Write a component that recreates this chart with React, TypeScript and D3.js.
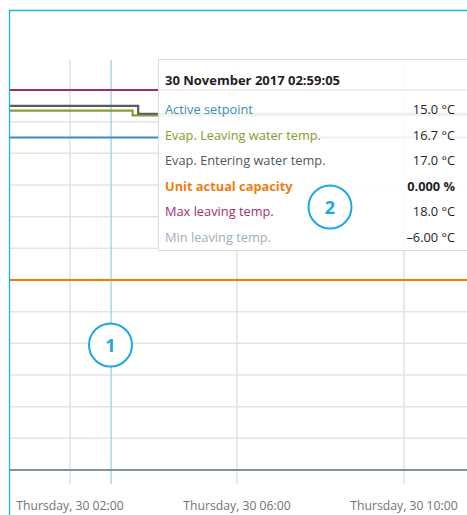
import React from "react";
import * as d3 from "d3";

const W = 467;
const H = 515;

const parse = d3.timeParse("%Y-%m-%d %H:%M");

// x-axis tick times
const tickTimes = ["2017-11-30 02:00", "2017-11-30 06:00", "2017-11-30 10:00"];
const cursorTime = "2017-11-30 02:59";

// series (time, value)
const activeSetpointT = ["2017-11-30 00:00", "2017-11-30 12:00"];
const activeSetpointV = [15.0, 15.0];
const leavingT = ["2017-11-30 00:00", "2017-11-30 03:30", "2017-11-30 12:00"];
const leavingV = [16.7, 16.4, 16.4];
const enteringT = ["2017-11-30 00:00", "2017-11-30 03:38", "2017-11-30 12:00"];
const enteringV = [17.0, 16.5, 16.5];
const capacityT = ["2017-11-30 00:00", "2017-11-30 12:00"];
const capacityV = [0, 0];
const maxT = ["2017-11-30 00:00", "2017-11-30 12:00"];
const maxV = [18.0, 18.0];
const minT = ["2017-11-30 00:00", "2017-11-30 12:00"];
const minV = [-6.0, -6.0];

const gridTemps = [-4, -2, 0, 2, 4, 6, 8, 10, 12, 14, 16];

const tooltipTitle = "30 November 2017 02:59:05";
const tooltipLabels = [
  "Active setpoint",
  "Evap. Leaving water temp.",
  "Evap. Entering water temp.",
  "Unit actual capacity",
  "Max leaving temp.",
  "Min leaving temp.",
];
const tooltipValues = ["15.0 °C", "16.7 °C", "17.0 °C", "0.000 %", "18.0 °C", "–6.00 °C"];
const tooltipColors = ["#3b8db5", "#8d9b2c", "#4f585e", "#f07d12", "#a3326a", "#9fadbd"];

const FONT = "'Open Sans', sans-serif";

export default function App() {
  const x = d3
    .scaleTime()
    .domain([parse(tickTimes[0])!, parse(tickTimes[2])!])
    .range([70, 404]);
  const yT = d3.scaleLinear().domain([-6, 18]).range([470, 90]);
  const yP = d3.scaleLinear().domain([-100, 100]).range([470, 90]);

  const mk = (ts: string[], vs: number[]) => ts.map((t, i) => ({ t: parse(t)!, v: vs[i] }));
  const lineT = d3
    .line<{ t: Date; v: number }>()
    .x((d) => x(d.t))
    .y((d) => yT(d.v))
    .curve(d3.curveStepAfter);
  const lineP = d3
    .line<{ t: Date; v: number }>()
    .x((d) => x(d.t))
    .y((d) => yP(d.v))
    .curve(d3.curveStepAfter);

  const fmt = d3.timeFormat("%A, %d %H:%M");
  const ticks = tickTimes.map((t) => parse(t)!);
  const cx = x(parse(cursorTime)!);

  const series = [
    { d: lineT(mk(minT, minV)), c: "#7f92a3" },
    { d: lineP(mk(capacityT, capacityV)), c: "#f07d00" },
    { d: lineT(mk(activeSetpointT, activeSetpointV)), c: "#3b8db5" },
    { d: lineT(mk(leavingT, leavingV)), c: "#8d9b2c" },
    { d: lineT(mk(enteringT, enteringV)), c: "#545d63" },
    { d: lineT(mk(maxT, maxV)), c: "#a8296a" },
  ];

  const rowY0 = 114;
  const rowStep = 25.6;

  return (
    <svg width={W} height={H} style={{ position: "absolute", left: 0, top: 0, background: "#fff" }}>
      <defs>
        <clipPath id="plot">
          <rect x={10} y={11} width={W - 10} height={H - 11} />
        </clipPath>
      </defs>
      <g clipPath="url(#plot)">
        {gridTemps.map((g) => (
          <line key={g} x1={10} x2={W} y1={yT(g)} y2={yT(g)} stroke="#e4e4e4" strokeWidth={1.5} />
        ))}
        {ticks.map((t, i) => (
          <line key={i} x1={x(t)} x2={x(t)} y1={60} y2={484} stroke="#e2e2e2" strokeWidth={1.5} />
        ))}
        <line x1={cx} x2={cx} y1={60} y2={484} stroke="#8fcfd6" strokeWidth={1.2} />
        {series.map((s, i) => (
          <path key={i} d={s.d || ""} fill="none" stroke={s.c} strokeWidth={2.2} />
        ))}
      </g>
      <line x1={9.5} x2={9.5} y1={10} y2={H} stroke="#22b0e6" strokeWidth={1.3} />
      <line x1={9} x2={W} y1={10.5} y2={10.5} stroke="#22b0e6" strokeWidth={1.3} />

      {ticks.map((t, i) => (
        <text
          key={i}
          x={x(t)}
          y={510}
          textAnchor="middle"
          fontFamily={FONT}
          fontSize={12.2}
          fill="#737373"
        >
          {fmt(t)}
        </text>
      ))}

      <rect x={158.5} y={59.5} width={W} height={191} fill="#fff" fillOpacity={0.9} stroke="#dcdcdc" />
      <text x={165} y={85} fontFamily={FONT} fontSize={13} fontWeight={700} fill="#1e1e1e">
        {tooltipTitle}
      </text>
      {tooltipLabels.map((l, i) => (
        <g key={i}>
          <text
            x={165}
            y={rowY0 + i * rowStep}
            fontFamily={FONT}
            fontSize={12.8}
            fontWeight={i === 3 ? 700 : 400}
            fill={tooltipColors[i]}
          >
            {l}
          </text>
          <text
            x={455}
            y={rowY0 + i * rowStep}
            textAnchor="end"
            fontFamily={FONT}
            fontSize={12.8}
            fontWeight={i === 3 ? 700 : 400}
            fill="#1e1e1e"
          >
            {tooltipValues[i]}
          </text>
        </g>
      ))}

      <circle cx={110.5} cy={345} r={21.5} fill="#fff" stroke="#1aa9e5" strokeWidth={2} />
      <text x={110.5} y={351.5} textAnchor="middle" fontFamily={FONT} fontSize={18} fontWeight={700} fill="#1aa9e5">
        1
      </text>
      <circle cx={330} cy={207} r={21.5} fill="#fff" stroke="#1aa9e5" strokeWidth={2} />
      <text x={330} y={213.5} textAnchor="middle" fontFamily={FONT} fontSize={18} fontWeight={700} fill="#1aa9e5">
        2
      </text>
    </svg>
  );
}
